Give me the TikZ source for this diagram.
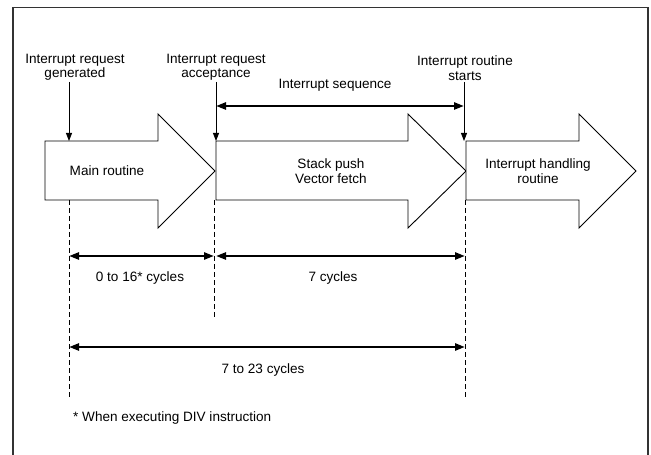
\documentclass[tikz,border=0pt]{standalone}
\usepackage{fontspec}
\setmainfont{Liberation Sans}
\usetikzlibrary{arrows.meta}
\begin{document}
\begin{tikzpicture}[x=1bp,y=-1bp,
  txt/.style={font=\fontsize{13.6}{15}\selectfont, inner sep=0pt, align=center},
  bigarrow/.style={draw=black, line width=0.9bp, fill=white, line join=miter},
  pointer/.style={draw=black, line width=0.9bp, -{Triangle[length=8bp,width=6bp]}},
  dim/.style={draw=black, line width=2.4bp, {Triangle[length=10bp,width=7bp]}-{Triangle[length=10bp,width=7bp]}},
  guide/.style={draw=black, line width=0.9bp, dash pattern=on 5bp off 3bp}]
\useasboundingbox (0,0) rectangle (651,455);
\draw[line width=1.4bp, draw=black!80] (13,456) -- (13,7.5) -- (648,7.5) -- (648,456);
% big arrows
\draw[bigarrow] (45,141) -- (158,141) -- (158,114) -- (215,171) -- (158,228) -- (158,200) -- (45,200) -- cycle;
\draw[bigarrow] (216,141) -- (408,141) -- (408,114) -- (466,171) -- (408,228) -- (408,200) -- (216,200) -- cycle;
\draw[bigarrow] (466,141) -- (579,141) -- (579,114) -- (636,171) -- (579,228) -- (579,200) -- (466,200) -- cycle;
\node[txt] (main) at (107,171) {Main routine};
\node[txt] (stack) at (331,171) {Stack push\\Vector fetch};
\node[txt] (handle) at (538,171) {Interrupt handling\\routine};
% top labels
\node[txt, anchor=south] (gen) at (75,81) {Interrupt request\\generated};
\node[txt, anchor=south] (acc) at (216,81) {Interrupt request\\acceptance};
\node[txt, anchor=south] (starts) at (465,81) {Interrupt routine\\starts};
\node[txt] (seq) at (335,85) {Interrupt sequence};
\coordinate (g1) at (69,82); \coordinate (g2) at (69,141);
\coordinate (a1) at (216,82); \coordinate (a2) at (216,141);
\coordinate (s1) at (464,82); \coordinate (s2) at (464,141);
\draw[pointer] (g1) -- (g2);
\draw[pointer] (a1) -- (a2);
\draw[pointer] (s1) -- (s2);
\coordinate (q1) at (216,106); \coordinate (q2) at (464,106);
\draw[dim] (q1) -- (q2);
% guides
\coordinate (d1a) at (69,200); \coordinate (d1b) at (69,397);
\coordinate (d2a) at (214,200); \coordinate (d2b) at (214,320);
\coordinate (d3a) at (465,200); \coordinate (d3b) at (465,397);
\draw[guide] (d1a) -- (d1b);
\draw[guide] (d2a) -- (d2b);
\draw[guide] (d3a) -- (d3b);
% dimension arrows
\coordinate (r1a) at (69,256); \coordinate (r1b) at (214,256);
\coordinate (r2a) at (216,256); \coordinate (r2b) at (465,256);
\coordinate (r3a) at (69,347); \coordinate (r3b) at (465,347);
\draw[dim] (r1a) -- (r1b);
\draw[dim] (r2a) -- (r2b);
\draw[dim] (r3a) -- (r3b);
\node[txt] (c1) at (140,278) {0 to 16* cycles};
\node[txt] (c2) at (333,278) {7 cycles};
\node[txt] (c3) at (263,370) {7 to 23 cycles};
\node[txt, anchor=west] (note) at (73,418) {* When executing DIV instruction};
\end{tikzpicture}
\end{document}
